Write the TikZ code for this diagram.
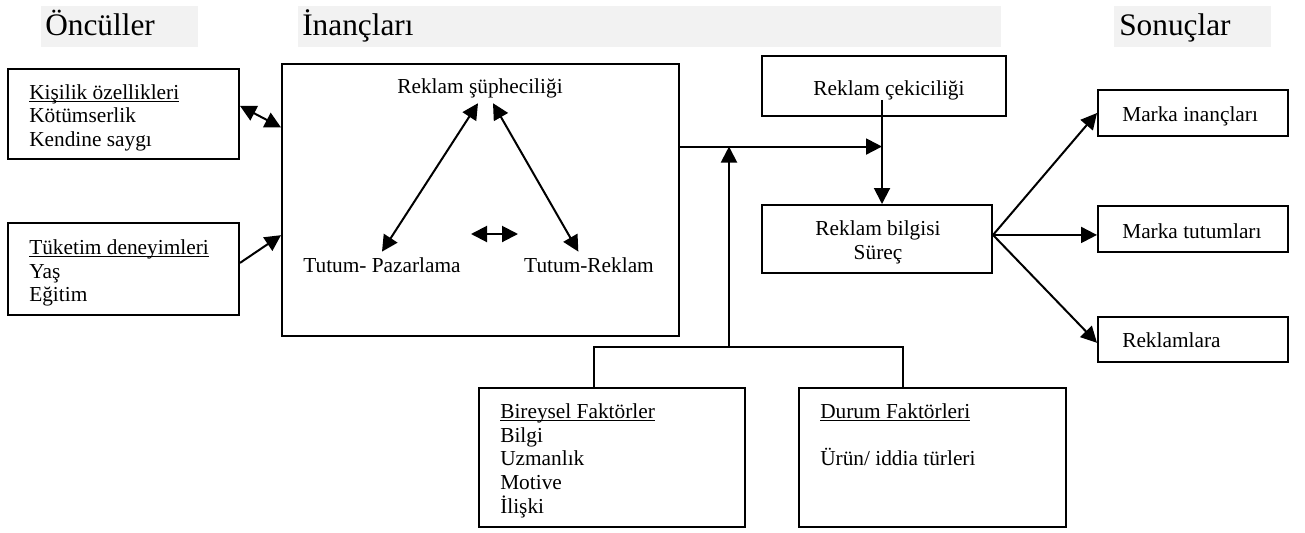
\documentclass[tikz,border=0pt]{standalone}
\usepackage{fontspec}
\setmainfont{Liberation Serif}
\usetikzlibrary{arrows.meta,fit}
\newcommand{\ulin}[1]{\setbox0=\hbox{#1}\rlap{\rule[-2.2pt]{\wd0}{0.7pt}}\box0}

\begin{document}
\begin{tikzpicture}[x=0.75pt,y=-0.75pt,
  box/.style={draw,line width=1.5pt,inner sep=0pt},
  headbg/.style={fill=headgray,inner sep=0pt},
  head/.style={inner sep=0pt,anchor=base west,font=\fontsize{23.5}{26}\selectfont},
  txt/.style={inner sep=0pt,align=left,font=\fontsize{16}{17.8}\selectfont},
  con/.style={line width=1.5pt},
  arr/.style={con,-{Triangle[length=12pt,width=12pt]}},
  dbl/.style={con,{Triangle[length=12pt,width=12pt]}-{Triangle[length=12pt,width=12pt]}}]
  \definecolor{headgray}{RGB}{242,242,242}
  \useasboundingbox (0,0) rectangle (1305,532);

  % column headers
  \node[headbg,fit={(41,6) (198,47)}] (hon) {};
  \node[head] (hontxt) at (45,35) {Öncüller};
  \node[headbg,fit={(298,6) (1001,47)}] (hin) {};
  \node[head] (hintxt) at (302,35) {İnançları};
  \node[headbg,fit={(1114,6) (1271,47)}] (hso) {};
  \node[head] (hsotxt) at (1119,35) {Sonuçlar};

  % antecedents (left)
  \node[box,fit={(8,69) (239,159)}] (kis) {};
  \node[txt,anchor=north west] (kistxt) at (29,84) {\ulin{Kişilik özellikleri}\\Kötümserlik\\Kendine saygı};
  \node[box,fit={(8,223) (239,315)}] (tuk) {};
  \node[txt,anchor=north west] (tuktxt) at (29,239.4) {\ulin{Tüketim deneyimleri}\\Yaş\\Eğitim};

  % beliefs box with triangle
  \node[box,fit={(282,64) (679,336)}] (big) {};
  \node[txt,inner sep=4pt,anchor=base] (sup) at (480,93) {Reklam şüpheciliği};
  \node[txt,inner sep=4pt,anchor=base] (tpaz) at (382,272) {Tutum- Pazarlama};
  \node[txt,inner sep=4pt,anchor=base] (trek) at (589,272) {Tutum-Reklam};
  \coordinate (mid1) at (471,234);
  \coordinate (mid2) at (518,234);
  \draw[dbl] ([xshift=-1.5pt]sup.south) -- (tpaz.north);
  \draw[dbl] ([xshift=9.75pt]sup.south) -- ([xshift=-8pt]trek.north);
  \draw[dbl] (mid1) -- (mid2);

  % ad appeal and processing
  \node[box,fit={(762,56) (1006,116)}] (cek) {};
  \node[txt,anchor=base] (cektxt) at (889,95) {Reklam çekiciliği};
  \node[box,fit={(762,205) (992,273)}] (bil) {};
  \node[txt,align=center,anchor=north] (biltxt) at (878,220.4) {Reklam bilgisi\\Süreç};

  % consequences (right)
  \node[box,fit={(1098,90) (1288,136)}] (mi) {};
  \node[txt,anchor=base west] (mitxt) at (1122,121) {Marka inançları};
  \node[box,fit={(1098,206) (1288,252)}] (mt) {};
  \node[txt,anchor=base west] (mttxt) at (1122,238) {Marka tutumları};
  \node[box,fit={(1098,317) (1288,362)}] (rek) {};
  \node[txt,anchor=base west] (rektxt) at (1122,347) {Reklamlara};

  % moderators (bottom)
  \node[box,fit={(479,388) (745,527)}] (bir) {};
  \node[txt,anchor=north west] (birtxt) at (500,403.4) {\ulin{Bireysel Faktörler}\\Bilgi\\Uzmanlık\\Motive\\İlişki};
  \node[box,fit={(799,388) (1066,527)}] (dur) {};
  \node[txt,anchor=north west] (durtxt) at (820,403.4) {\ulin{Durum Faktörleri}\\[17.8pt]Ürün/ iddia türleri};

  % connectors
  \coordinate (hit) at (882,147);
  \coordinate (fork) at (729,347);
  \draw[dbl] (kis.4) -- (big.160);
  \draw[arr] (tuk.3) -- (big.190);
  \draw[arr] (big.15) -- (big.15 -| hit);
  \draw[arr] (cektxt.south -| hit) -- (bil.north -| hit);
  \draw[arr] (fork) -- (fork |- big.15);
  \draw[con] ([xshift=-13.5pt]bir.north) |- (fork) -| ([xshift=-22.5pt]dur.north);
  \draw[arr] (bil.2) -- (mi.west);
  \draw[arr] (bil.2) -- (bil.2 -| mt.west);
  \draw[arr] (bil.2) -- (rek.182);
\end{tikzpicture}
\end{document}
